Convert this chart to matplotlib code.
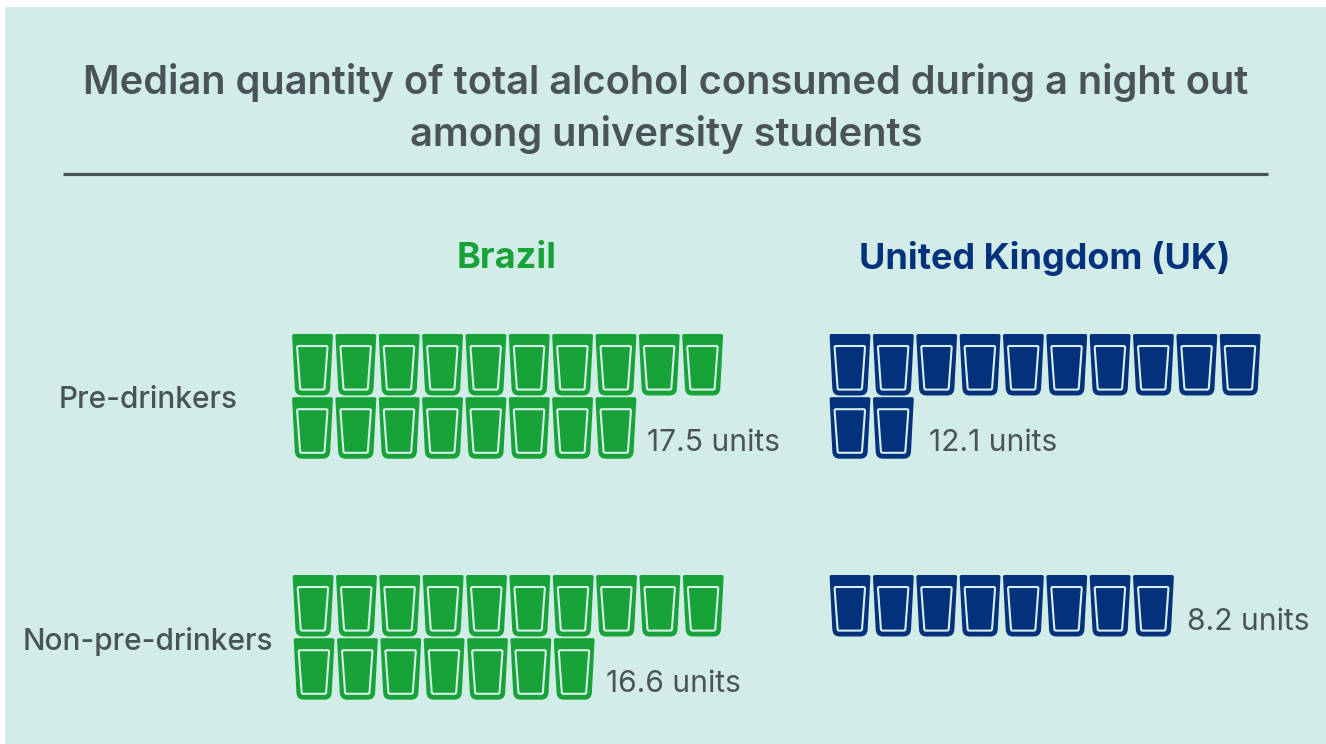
import matplotlib; matplotlib.use("Agg")
import matplotlib.pyplot as plt
from matplotlib.patches import PathPatch, Rectangle
from matplotlib.path import Path

countries = ["Brazil", "United Kingdom (UK)"]
groups = ["Pre-drinkers", "Non-pre-drinkers"]
brazil_units = [17.5, 16.6]
uk_units = [12.1, 8.2]

GREEN = "#17A338"
BLUE = "#03317C"
BG = "#D2ECE8"
INK = "#4A5357"
PER_ROW = 10
FONT = "Inter"

plt.rcParams["font.family"] = [FONT, "DejaVu Sans"]


def rounded_poly(pts, radii):
    """Closed polygon with quadratic rounded corners."""
    verts, codes = [], []
    n = len(pts)
    for i, (p, r) in enumerate(zip(pts, radii)):
        prev, nxt = pts[i - 1], pts[(i + 1) % n]
        def toward(a, b):
            d = ((b[0] - a[0]) ** 2 + (b[1] - a[1]) ** 2) ** 0.5
            return (a[0] + (b[0] - a[0]) * r / d, a[1] + (b[1] - a[1]) * r / d)
        verts.append(toward(p, prev))
        codes.append(Path.MOVETO if i == 0 else Path.LINETO)
        verts += [p, toward(p, nxt)]
        codes += [Path.CURVE3, Path.CURVE3]
    verts.append(verts[0])
    codes.append(Path.CLOSEPOLY)
    return Path(verts, codes)


def draw_glass(ax, x, y, color):
    # x, y is the top-left corner of the tumbler
    outer = [(x, y), (x + 41, y), (x + 37.8, y + 61.5), (x + 3.2, y + 61.5)]
    inner = [(x + 5, y + 12), (x + 35.6, y + 12), (x + 32.4, y + 55.6), (x + 8.2, y + 55.6)]
    ax.add_patch(PathPatch(rounded_poly(outer, [2, 2, 7, 7]), fc=color, ec="none"))
    ax.add_patch(PathPatch(rounded_poly(inner, [1.5, 1.5, 1.5, 1.5]), fc="none", ec="#D8EEEA", lw=1.5))


def draw_block(ax, value, x0, y0, color, label_xy, x0_row2=None):
    count = int(round(value))
    for i in range(count):
        row, col = divmod(i, PER_ROW)
        left = x0 if row == 0 or x0_row2 is None else x0_row2
        draw_glass(ax, left + col * 43.35, y0 + row * 63.2, color)
    ax.text(*label_xy, f"{value} units", fontsize=21.6, color=INK, va="center", ha="left")


fig = plt.figure(figsize=(13.26, 7.44), dpi=100, facecolor="white")
ax = fig.add_axes([0, 0, 1, 1])
ax.set_xlim(0, 1326)
ax.set_ylim(744, 0)
ax.axis("off")
ax.add_patch(Rectangle((5, 7), 1321, 737, fc=BG, ec="none"))

ax.text(666, 83, "Median quantity of total alcohol consumed during a night out",
        fontsize=28.7, fontweight="semibold", color=INK, ha="center", va="center")
ax.text(666, 134, "among university students",
        fontsize=28.7, fontweight="semibold", color=INK, ha="center", va="center")
ax.plot([63, 1268], [174, 174], color=INK, lw=2.3, solid_capstyle="butt")

ax.text(507, 258, countries[0], fontsize=26, fontweight="bold", color=GREEN, ha="center", va="center")
ax.text(1045, 258, countries[1], fontsize=26, fontweight="bold", color=BLUE, ha="center", va="center")

ax.text(148, 400, groups[0], fontsize=21.5, fontweight="medium", color=INK, ha="center", va="center")
ax.text(148, 641, groups[1], fontsize=21.5, fontweight="medium", color=INK, ha="center", va="center")

draw_block(ax, brazil_units[0], 292, 334, GREEN, (647, 443))
draw_block(ax, brazil_units[1], 292.6, 575, GREEN, (606, 684), x0_row2=293.6)
draw_block(ax, uk_units[0], 829.5, 334, BLUE, (929, 443))
draw_block(ax, uk_units[1], 829.5, 575, BLUE, (1187, 622))

fig.savefig("out.png", dpi=100)
